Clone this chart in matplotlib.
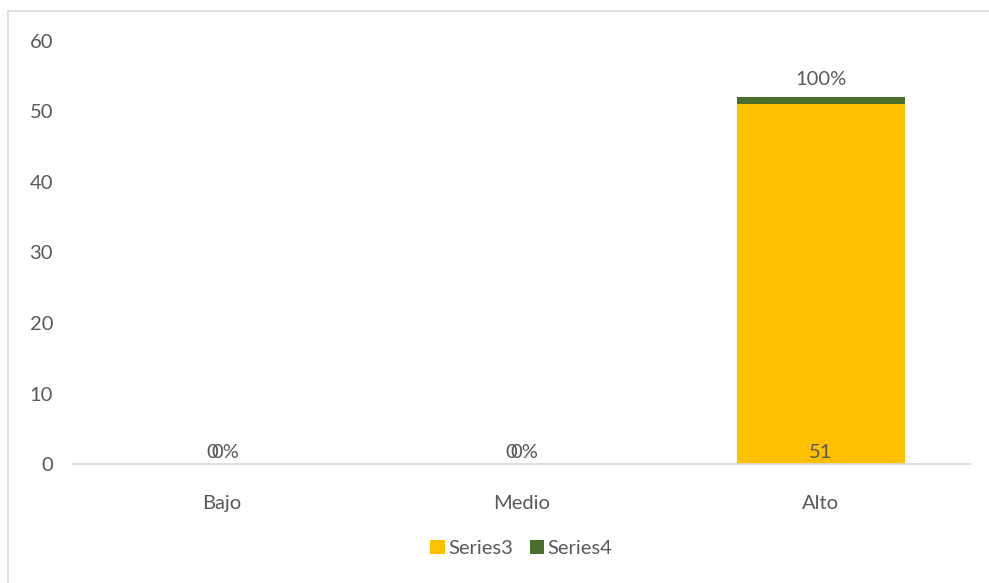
import numpy as np
import matplotlib.pyplot as plt
from matplotlib.patches import Rectangle

categories = ['Bajo', 'Medio', 'Alto']
series3 = [0, 0, 51]
series4 = [0, 0, 1]
pct_labels = ['0%', '0%', '100%']

plt.rcParams['font.family'] = ['Lato', 'DejaVu Sans']
txt = '#595959'
fs = 14.5

fig = plt.figure(figsize=(9.89, 5.83), dpi=100)
ax = fig.add_axes([0.0733, 0.204, 0.908, 0.726])

x = np.arange(len(categories))
w = 0.56
ax.bar(x, series3, w, color='#FFC000', label='Series3', zorder=2)
ax.bar(x, series4, w, bottom=series3, color='#4A6E2C', label='Series4', zorder=2)

# data labels (the zero labels overlap, as in the original chart)
for i in range(len(categories)):
    if series3[i] > 0:
        ax.text(x[i], 1.6, str(series3[i]), ha='center', va='center', color=txt, fontsize=fs)
        ax.text(x[i], series3[i] + series4[i] + 1.3, pct_labels[i], ha='center', va='bottom',
                color=txt, fontsize=fs)
    else:
        ax.text(x[i] - 0.033, 1.6, '0', ha='center', va='center', color=txt, fontsize=fs)
        ax.text(x[i] + 0.01, 1.6, pct_labels[i], ha='center', va='center', color=txt, fontsize=fs)

ax.set_xlim(-0.5, 2.5)
ax.set_ylim(0, 60)
ax.set_yticks(range(0, 61, 10))
ax.set_xticks(x)
ax.set_xticklabels(categories)
ax.tick_params(length=0, labelsize=fs, colors=txt)
ax.tick_params(axis='y', pad=14)
ax.tick_params(axis='x', pad=22)
for s in ['top', 'right', 'left']:
    ax.spines[s].set_visible(False)
ax.spines['bottom'].set_color('#D9D9D9')
ax.spines['bottom'].set_linewidth(1.2)

leg = ax.legend(loc='center', bbox_to_anchor=(0.5, -0.2), ncol=2, frameon=False,
                fontsize=fs, handlelength=0.7, handleheight=0.7, handletextpad=0.2,
                columnspacing=0.8)
for t in leg.get_texts():
    t.set_color(txt)

# chart border (only top and left edges fall inside the image)
fig.patches.append(Rectangle((8 / 989, -0.1), 1.2, 1 - 11 / 583 + 0.1, transform=fig.transFigure,
                             fill=False, edgecolor='#D9D9D9', linewidth=1.2))

plt.savefig('out.png', dpi=100)
